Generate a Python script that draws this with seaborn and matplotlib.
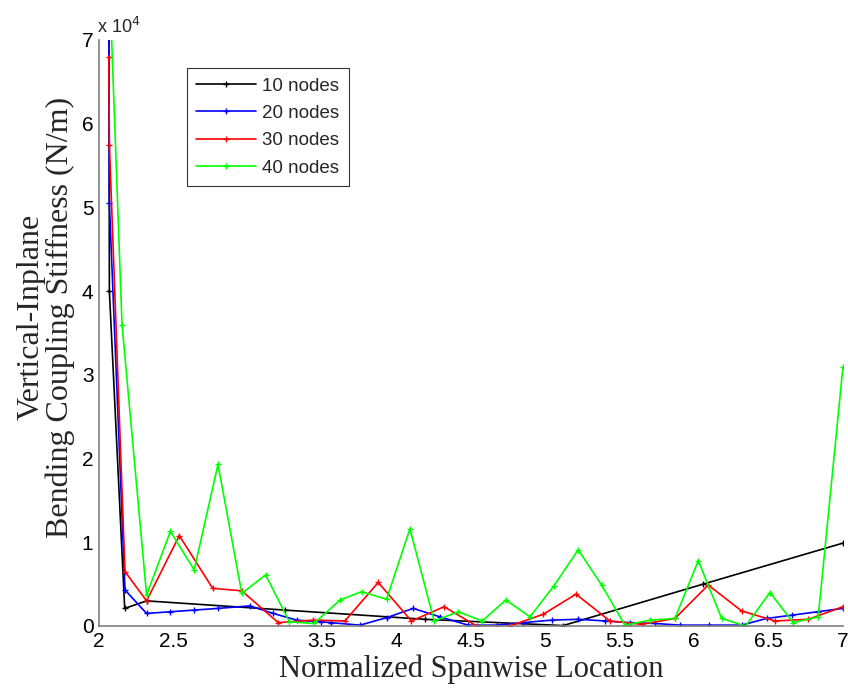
import matplotlib
matplotlib.use("Agg")
import matplotlib.pyplot as plt
import seaborn as sns
import pandas as pd

sns.set_theme(style="white")

# ---- data (values in N/m) ----
x10 = [2.066, 2.07, 2.173, 2.32, 3.25, 4.19, 5.12, 6.06, 7.0]
y10 = [80000, 40000, 2100, 3000, 1900, 800, 50, 5000, 9900]

x20 = [2.066, 2.07, 2.175, 2.32, 2.48, 2.64, 2.80, 3.015, 3.171, 3.329, 3.49,
       3.56, 3.754, 3.934, 4.112, 4.29, 4.482, 4.673, 4.852, 5.042, 5.221,
       5.40, 5.568, 5.74, 5.904, 6.10, 6.319, 6.487, 6.66, 6.83, 7.0]
y20 = [80000, 50500, 4300, 1500, 1700, 1900, 2100, 2400, 1500, 700, 500,
       400, 100, 1000, 2100, 1100, 100, 100, 400, 700, 800,
       600, 400, 300, 100, 100, 100, 900, 1300, 1700, 2100]

x30 = [2.066, 2.07, 2.175, 2.32, 2.54, 2.764, 2.96, 3.205, 3.44, 3.653,
       3.877, 4.10, 4.32, 4.538, 4.762, 4.986, 5.206, 5.434, 5.647, 5.871,
       6.095, 6.319, 6.543, 6.767, 7.0]
y30 = [68000, 57500, 6500, 3000, 10800, 4500, 4200, 400, 700, 600,
       5200, 600, 2300, 0, 0, 1400, 3800, 600, 200, 900,
       4900, 1800, 600, 800, 2300]

x40 = [2.075, 2.155, 2.32, 2.48, 2.64, 2.80, 2.96, 3.12, 3.28, 3.445, 3.62,
       3.765, 3.933, 4.09, 4.253, 4.415, 4.576, 4.735, 4.897, 5.058, 5.221,
       5.378, 5.535, 5.703, 5.871, 6.028, 6.185, 6.346, 6.51, 6.666, 6.834, 7.0]
y40 = [75000, 36000, 3700, 11300, 6700, 19300, 3900, 6100, 500, 300, 3100,
       4100, 3200, 11600, 600, 1700, 600, 3100, 1100, 4800, 9100,
       4900, 100, 700, 900, 7800, 900, 0, 4000, 400, 1100, 30900]

labels = ["10 nodes", "20 nodes", "30 nodes", "40 nodes"]
colors = ["#000000", "#0000ff", "#ff0000", "#00ff00"]

frames = []
for xs, ys, lab in zip([x10, x20, x30, x40], [y10, y20, y30, y40], labels):
    frames.append(pd.DataFrame({"x": xs, "y": ys, "series": lab}))
df = pd.concat(frames, ignore_index=True)

xticks = [2, 2.5, 3, 3.5, 4, 4.5, 5, 5.5, 6, 6.5, 7]
xticklabels = ["2", "2.5", "3", "3.5", "4", "4.5", "5", "5.5", "6", "6.5", "7"]
yticks = [0, 10000, 20000, 30000, 40000, 50000, 60000, 70000]
yticklabels = ["0", "1", "2", "3", "4", "5", "6", "7"]

plt.rcParams["font.family"] = ["Liberation Sans", "DejaVu Sans"]

fig = plt.figure(figsize=(8.48, 6.94), dpi=100)
ax = fig.add_axes([0.1167, 0.098, 0.994 - 0.1167, 0.9424 - 0.098])

sns.lineplot(data=df, x="x", y="y", hue="series", hue_order=labels,
             palette=colors, sort=False, estimator=None, marker="+",
             markersize=4, markeredgewidth=1.0, linewidth=1.2, ax=ax,
             legend=True)
for ln in ax.lines:
    ln.set_markeredgecolor(ln.get_color())

ax.set_xlim(2, 7)
ax.set_ylim(0, 70000)
ax.set_xticks(xticks)
ax.set_xticklabels(xticklabels, fontsize=15)
ax.set_yticks(yticks)
ax.set_yticklabels(yticklabels, fontsize=15)
ax.tick_params(axis="both", direction="in", length=7, width=1, color="#808080",
               labelcolor="black", pad=4)
for s in ["top", "right"]:
    ax.spines[s].set_visible(False)
for s in ["left", "bottom"]:
    ax.spines[s].set_color("#808080")
    ax.spines[s].set_linewidth(1.2)

ax.set_xlabel("Normalized Spanwise Location", fontsize=22,
              family=["Liberation Serif", "DejaVu Serif"], labelpad=3)
ax.set_ylabel("Vertical-Inplane\nBending Coupling Stiffness (N/m)", fontsize=23,
              family=["Liberation Serif", "DejaVu Serif"], linespacing=1.0)
ax.yaxis.set_label_coords(-0.032, 0.527)

ax.text(-0.003, 1.005, r"x 10$^{4}$", transform=ax.transAxes, fontsize=13,
        ha="left", va="bottom")

leg = ax.legend(loc="upper left", bbox_to_anchor=(0.1185, 0.952), fontsize=13.5,
                frameon=True, fancybox=False, edgecolor="black",
                handlelength=3.2, handletextpad=0.3, borderpad=0.5,
                labelspacing=0.55, borderaxespad=0)
leg.get_frame().set_linewidth(0.8)
for h in leg.get_lines():
    h.set_linewidth(1.2)
    h.set_markeredgecolor(h.get_color())

fig.savefig("out.png", dpi=100, facecolor="white")
